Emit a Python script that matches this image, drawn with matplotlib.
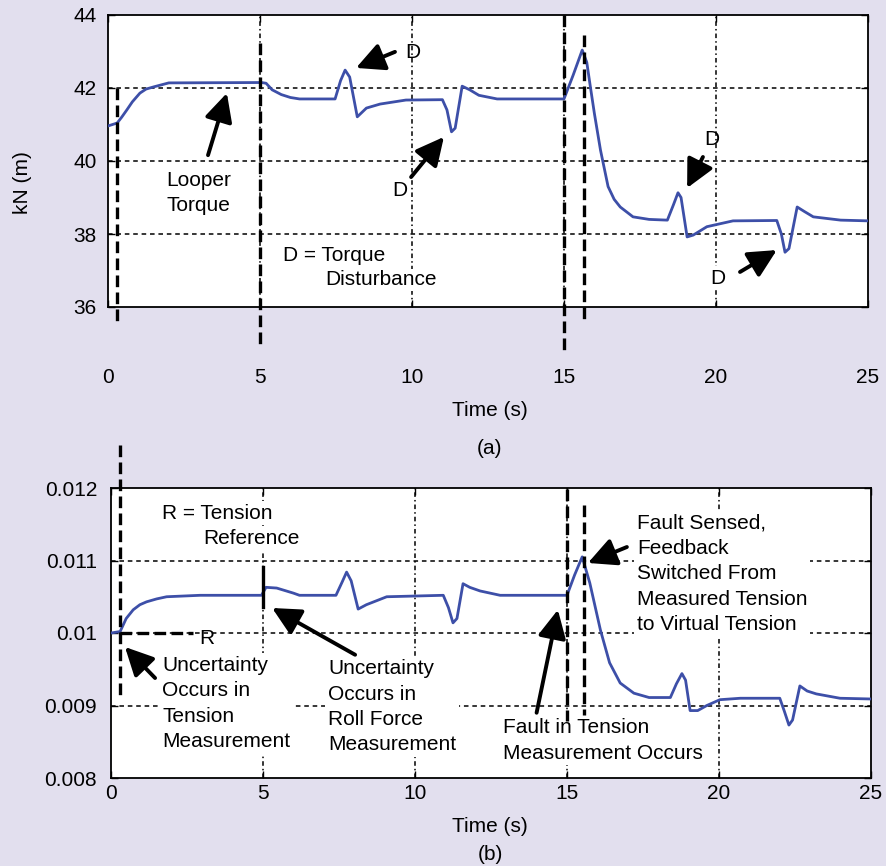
import matplotlib
matplotlib.use("Agg")
import matplotlib.pyplot as plt

plt.rcParams['font.family'] = ['Liberation Sans', 'DejaVu Sans']

# ---------------- data ----------------
top_t = [0, 0.3, 0.45, 0.62, 0.8, 1.05, 1.25, 1.5, 2.0, 5.05, 5.2, 5.4, 5.7, 6.0, 6.3, 7.47,
         7.65, 7.8, 7.95, 8.2, 8.5, 8.95, 9.8, 11.0, 11.15, 11.3, 11.42, 11.65, 11.9, 12.2,
         12.8, 15.0, 15.3, 15.6, 15.75, 15.85, 16.0, 16.2, 16.45, 16.65, 16.85, 17.27, 17.8,
         18.4, 18.6, 18.75, 18.85, 19.05, 19.25, 19.7, 20.56, 22.0, 22.15, 22.27, 22.4,
         22.67, 22.9, 23.2, 24.1, 25]
top_v = [40.96, 41.04, 41.2, 41.4, 41.62, 41.86, 41.97, 42.03, 42.14, 42.15, 42.13, 41.95,
         41.82, 41.74, 41.70, 41.70, 42.2, 42.49, 42.3, 41.21, 41.45, 41.56, 41.67, 41.68,
         41.4, 40.8, 40.9, 42.05, 41.95, 41.8, 41.7, 41.7, 42.35, 43.04, 42.7, 42.13, 41.3,
         40.3, 39.3, 38.95, 38.74, 38.47, 38.4, 38.38, 38.8, 39.13, 39.0, 37.92, 37.97, 38.2,
         38.36, 38.37, 38.0, 37.5, 37.6, 38.74, 38.62, 38.47, 38.38, 38.36]

bot_t = [0, 0.3, 0.5, 0.73, 0.95, 1.17, 1.5, 1.83, 2.93, 4.95, 5.1, 5.45, 6.0, 6.2, 7.4, 7.6,
         7.75, 7.9, 8.13, 8.4, 9.07, 10.93, 11.1, 11.25, 11.38, 11.58, 11.8, 12.14, 12.8,
         15.0, 15.25, 15.5, 15.75, 16.1, 16.4, 16.75, 17.2, 17.7, 18.4, 18.6, 18.78, 18.9,
         19.05, 19.3, 19.6, 20.03, 20.7, 22.0, 22.15, 22.3, 22.42, 22.66, 22.9, 23.2, 23.98, 25]
bot_v = [0.0100, 0.01002, 0.0102, 0.01032, 0.01039, 0.01043, 0.01047, 0.0105, 0.01052,
         0.01052, 0.01063, 0.01062, 0.01055, 0.01052, 0.01052, 0.0107, 0.01084, 0.01072,
         0.01033, 0.01039, 0.0105, 0.01052, 0.01035, 0.01014, 0.0102, 0.01068, 0.01063,
         0.01058, 0.01052, 0.01052, 0.0108, 0.01105, 0.01069, 0.01004, 0.00959, 0.00931,
         0.00917, 0.00911, 0.00911, 0.0093, 0.00944, 0.00935, 0.00893, 0.00893, 0.009,
         0.00908, 0.0091, 0.0091, 0.00892, 0.00873, 0.0088, 0.00927, 0.0092, 0.00916, 0.0091,
         0.00909]

x_ticks = [0, 5, 10, 15, 20, 25]
top_yticks = [36, 38, 40, 42, 44]
bot_yticks = [0.008, 0.009, 0.010, 0.011, 0.012]
bot_yticklabels = ['0.008', '0.009', '0.01', '0.011', '0.012']

BG = '#e2dfee'
BLUE = '#3d4fa8'
FS = 15
LS = 1.42

fig = plt.figure(figsize=(8.86, 8.66), dpi=100, facecolor=BG)
ax1 = fig.add_axes([108/886, 1-307/866, 760/886, 292/866])
ax2 = fig.add_axes([111/886, 1-778/866, 760/886, 290/866])

HDASH = (0, (3, 2.5))
VDASH = (0, (3, 2, 1, 2))
THICK = dict(color='black', lw=2.4, ls=(0, (3.5, 1.6)), clip_on=False, zorder=6)
ARW = dict(arrowstyle='-|>,head_length=0.9,head_width=0.45', lw=2.8, color='black',
           shrinkA=0, shrinkB=0, mutation_scale=19)
WB = dict(facecolor='white', edgecolor='none', pad=2)

for ax in (ax1, ax2):
    ax.set_facecolor('white')
    ax.set_xlim(0, 25)
    ax.set_xticks(x_ticks)
    for s in ax.spines.values():
        s.set_linewidth(1.3)
        s.set_color('black')
    ax.tick_params(direction='in', length=5, width=1, top=True, right=True, labelsize=FS)

# ---------------- top panel ----------------
ax1.set_ylim(36, 44)
ax1.set_yticks(top_yticks)
ax1.tick_params(axis='x', pad=44)
ax1.tick_params(axis='y', pad=8)
for yv in [38, 40, 42]:
    ax1.axhline(yv, color='black', lw=1.1, ls=HDASH, zorder=1)
for xv in [5, 10, 15, 20]:
    ax1.axvline(xv, color='black', lw=1.1, ls=VDASH, zorder=1)

ax1.plot(top_t, top_v, color=BLUE, lw=2.0, zorder=4, solid_joinstyle='round')

ax1.plot([0.3, 0.3], [42.0, 35.56], **THICK)
ax1.plot([5.0, 5.0], [43.23, 34.88], **THICK)
ax1.plot([15.0, 15.0], [44.0, 34.77], **THICK)
ax1.plot([15.67, 15.67], [43.45, 35.56], **THICK)

ax1.text(2.99, 39.12, 'Looper\nTorque', fontsize=FS, ha='center', va='center',
         linespacing=LS, zorder=3)
ax1.annotate('', xy=(3.91, 41.86), xytext=(3.29, 40.16), arrowprops=ARW, zorder=7)

ax1.text(10.03, 42.96, 'D', fontsize=FS, ha='center', va='center', zorder=3)
ax1.annotate('', xy=(8.16, 42.55), xytext=(9.44, 42.99), arrowprops=ARW, zorder=7)

ax1.text(9.6, 39.2, 'D', fontsize=FS, ha='center', va='center', zorder=3)
ax1.annotate('', xy=(11.05, 40.66), xytext=(9.97, 39.56), arrowprops=ARW, zorder=7)

ax1.text(5.76, 37.42, 'D = Torque', fontsize=FS, ha='left', va='center', zorder=3)
ax1.text(7.14, 36.74, 'Disturbance', fontsize=FS, ha='left', va='center', zorder=3,
         bbox=dict(facecolor='white', edgecolor='none', pad=1))

ax1.text(19.87, 40.6, 'D', fontsize=FS, ha='center', va='center', zorder=3)
ax1.annotate('', xy=(19.05, 39.26), xytext=(19.57, 40.11), arrowprops=ARW, zorder=7)

ax1.text(20.07, 36.79, 'D', fontsize=FS, ha='center', va='center', zorder=3, bbox=WB)
ax1.annotate('', xy=(22.0, 37.56), xytext=(20.79, 36.96), arrowprops=ARW, zorder=7)

# ---------------- bottom panel ----------------
ax2.set_ylim(0.008, 0.012)
ax2.set_yticks(bot_yticks)
ax2.set_yticklabels(bot_yticklabels)
ax2.tick_params(axis='x', pad=4)
ax2.tick_params(axis='y', pad=10)
for yv in [0.009, 0.010, 0.011]:
    ax2.axhline(yv, color='black', lw=1.1, ls=HDASH, zorder=1)
for xv in [5, 10, 15, 20]:
    ax2.axvline(xv, color='black', lw=1.1, ls=VDASH, zorder=1)

ax2.plot(bot_t, bot_v, color=BLUE, lw=2.0, zorder=4, solid_joinstyle='round')

ax2.plot([0.3, 0.3], [0.01259, 0.00912], **THICK)
ax2.plot([0.3, 2.7], [0.0100, 0.0100], **THICK)
ax2.plot([5.0, 5.0], [0.01091, 0.01036], color='black', lw=2.4, zorder=6)
ax2.plot([15.0, 15.0], [0.01198, 0.00878], **THICK)
ax2.plot([15.55, 15.55], [0.01177, 0.00887], **THICK)

ax2.text(1.68, 0.011655, 'R = Tension', fontsize=FS, ha='left', va='center', zorder=3, bbox=WB)
ax2.text(3.03, 0.01130, 'Reference', fontsize=FS, ha='left', va='center', zorder=3, bbox=WB)
ax2.text(3.16, 0.00993, 'R', fontsize=FS, ha='center', va='center', zorder=3)

ax2.text(1.68, 0.009027, 'Uncertainty\nOccurs in\nTension\nMeasurement', fontsize=FS,
         ha='left', va='center', linespacing=LS, zorder=3, bbox=WB)
ax2.annotate('', xy=(0.46, 0.009807), xytext=(1.45, 0.009379), arrowprops=ARW, zorder=7)

ax2.text(7.14, 0.00898, 'Uncertainty\nOccurs in\nRoll Force\nMeasurement', fontsize=FS,
         ha='left', va='center', linespacing=LS, zorder=3, bbox=WB)
ax2.annotate('', xy=(5.3, 0.010345), xytext=(8.03, 0.0097), arrowprops=ARW, zorder=7)

ax2.text(12.9, 0.008517, 'Fault in Tension\nMeasurement Occurs', fontsize=FS,
         ha='left', va='center', linespacing=LS, zorder=3, bbox=WB)
ax2.annotate('', xy=(14.7, 0.01032), xytext=(14.0, 0.0089), arrowprops=ARW, zorder=7)

ax2.text(17.3, 0.010814, 'Fault Sensed,\nFeedback\nSwitched From\nMeasured Tension\nto Virtual Tension',
         fontsize=FS, ha='left', va='center', linespacing=LS, zorder=3, bbox=WB)
ax2.annotate('', xy=(15.69, 0.010966), xytext=(16.97, 0.011186), arrowprops=ARW, zorder=7)

# ---------------- figure texts ----------------
fig.text(22/886, 1-183/866, 'kN (m)', rotation=90, ha='center', va='center', fontsize=FS)
fig.text(490/886, 1-410/866, 'Time (s)', ha='center', va='center', fontsize=FS)
fig.text(490/886, 1-448/866, '(a)', ha='center', va='center', fontsize=FS)
fig.text(490/886, 1-827/866, 'Time (s)', ha='center', va='center', fontsize=FS)
fig.text(490/886, 1-855/866, '(b)', ha='center', va='center', fontsize=FS)

fig.savefig('out.png', dpi=100, facecolor=BG)
